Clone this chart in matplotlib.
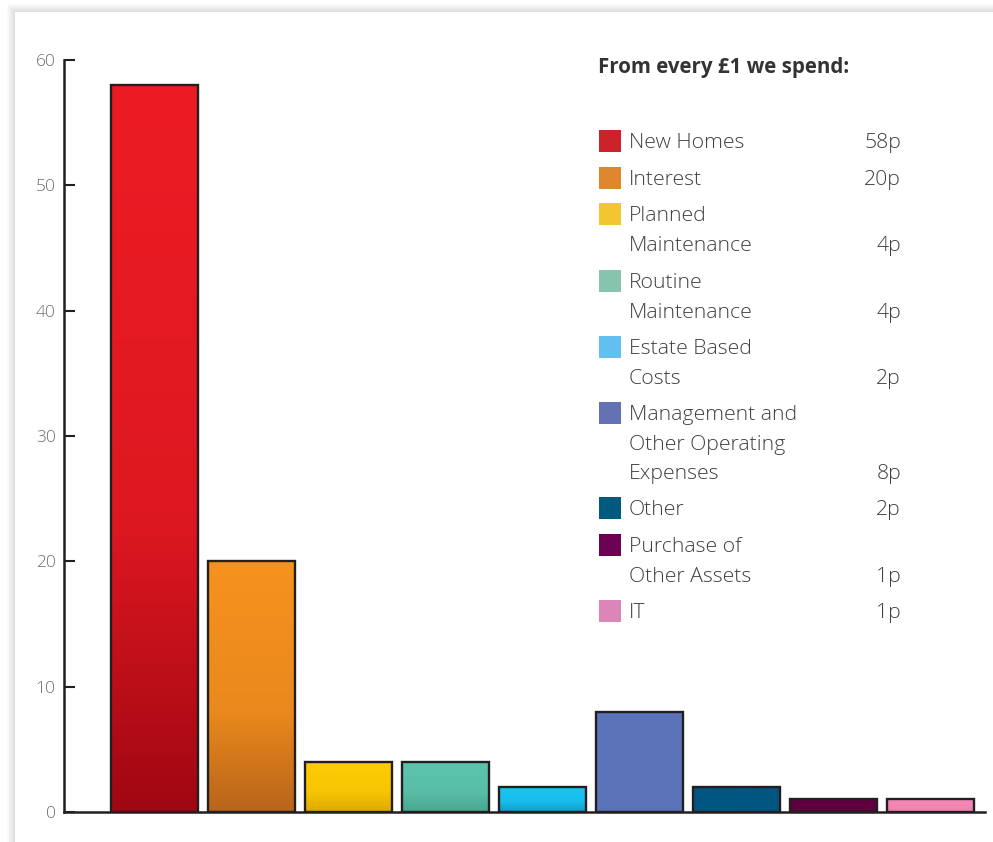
import numpy as np
import matplotlib.pyplot as plt
from matplotlib.colors import LinearSegmentedColormap, to_rgb
from matplotlib.patches import Rectangle

# spending per £1 (pence)
categories = ['New Homes', 'Interest', 'Planned Maintenance', 'Routine Maintenance',
              'Estate Based Costs', 'Management and Other Operating Expenses',
              'Other', 'Purchase of Other Assets', 'IT']
values = [58, 20, 4, 4, 2, 8, 2, 1, 1]

# legend text, wrapped as in the reference
legend_labels = ['New Homes', 'Interest', 'Planned\nMaintenance', 'Routine\nMaintenance',
                 'Estate Based\nCosts', 'Management and\nOther Operating\nExpenses',
                 'Other', 'Purchase of\nOther Assets', 'IT']
legend_values = ['58p', '20p', '4p', '4p', '2p', '8p', '2p', '1p', '1p']

# bar gradients (top colour, bottom colour)
bar_top = ['#ED1C24', '#F6921E', '#FFCC05', '#5DC4AE', '#1BC5F3',
           '#5B73B8', '#005680', '#5E003E', '#F388B5']
bar_bottom = ['#A00712', '#B8641A', '#DCAA00', '#48A68E', '#109CC8',
              '#5B73B8', '#005680', '#5E003E', '#F07FAE']
legend_colors = ['#CC2229', '#E0862E', '#F3C530', '#86C4AD', '#62C0F0',
                 '#6472B4', '#005A7E', '#6C0053', '#DB86B7']

plt.rcParams['font.family'] = ['Open Sans', 'DejaVu Sans']

fig = plt.figure(figsize=(9.93, 8.42), dpi=100)
fig.patch.set_facecolor('white')

# soft card shadow along the top and left edge
for i in range(1, 9):
    fig.patches.append(Rectangle(((15 - i) / 993, -0.1), 1.2, 1 - (12 - i) / 842 + 0.1,
                                 transform=fig.transFigure, facecolor='#000000',
                                 edgecolor='none', alpha=0.014, zorder=-3))
fig.patches.append(Rectangle((15 / 993, -0.1), 1.2, 1 - 12 / 842 + 0.1,
                             transform=fig.transFigure, facecolor='white',
                             edgecolor='none', zorder=-2))

ax = fig.add_axes([64 / 993, 30 / 842, 921 / 993, 752 / 842])
ax.set_zorder(1)
ax.patch.set_alpha(0)

x = np.arange(len(values))
bars = ax.bar(x, values, width=0.897, facecolor='none', edgecolor='#231F20',
              linewidth=1.7, zorder=3)

grad = np.linspace(0, 1, 256).reshape(-1, 1)
for b, top, bot in zip(bars, bar_top, bar_bottom):
    mid = 0.2 * np.array(to_rgb(bot)) + 0.8 * np.array(to_rgb(top))
    cmap = LinearSegmentedColormap.from_list('g', [(0, bot), (0.4, mid), (1, top)])
    x0, y0 = b.get_x(), b.get_y()
    w, h = b.get_width(), b.get_height()
    im = ax.imshow(grad, cmap=cmap, origin='lower', aspect='auto',
                   extent=[x0, x0 + w, y0, y0 + h], zorder=2)
    im.set_clip_path(b)

ax.set_xlim(-0.933, 8.56)
ax.set_ylim(0, 60)

for s in ['top', 'right']:
    ax.spines[s].set_visible(False)
for s in ['left', 'bottom']:
    ax.spines[s].set_linewidth(1.8)
    ax.spines[s].set_color('#231F20')
ax.set_xticks([])
ax.set_yticks(range(0, 61, 10))
ax.tick_params(axis='y', direction='in', length=8, width=1.5, color='#231F20',
               labelsize=12.5, labelcolor='#6D6E71', pad=6)
for t in ax.get_yticklabels():
    t.set_fontweight(300)

# legend block
fig.text(598 / 993, 1 - 68 / 842, 'From every £1 we spend:', fontsize=14.8,
         fontweight='bold', color='#333333', va='center', ha='left')

line_h = 29.6
y_start = [141, 178, 214, 281, 347, 413, 508, 545, 611]
for lab, val, col, yc in zip(legend_labels, legend_values, legend_colors, y_start):
    fig.patches.append(Rectangle((599 / 993, 1 - (yc + 11) / 842), 22 / 993, 22 / 842,
                                 transform=fig.transFigure, facecolor=col,
                                 edgecolor='none', zorder=3))
    lines = lab.split('\n')
    for k, ln in enumerate(lines):
        fig.text(629 / 993, 1 - (yc + 2 + k * line_h) / 842, ln, fontsize=15.3,
                 fontweight=300, color='#404040', va='center', ha='left')
    fig.text(901 / 993, 1 - (yc + 2 + (len(lines) - 1) * line_h) / 842, val,
             fontsize=15.3, fontweight=300, color='#404040', va='center', ha='right')

fig.savefig('out.png', dpi=100)
